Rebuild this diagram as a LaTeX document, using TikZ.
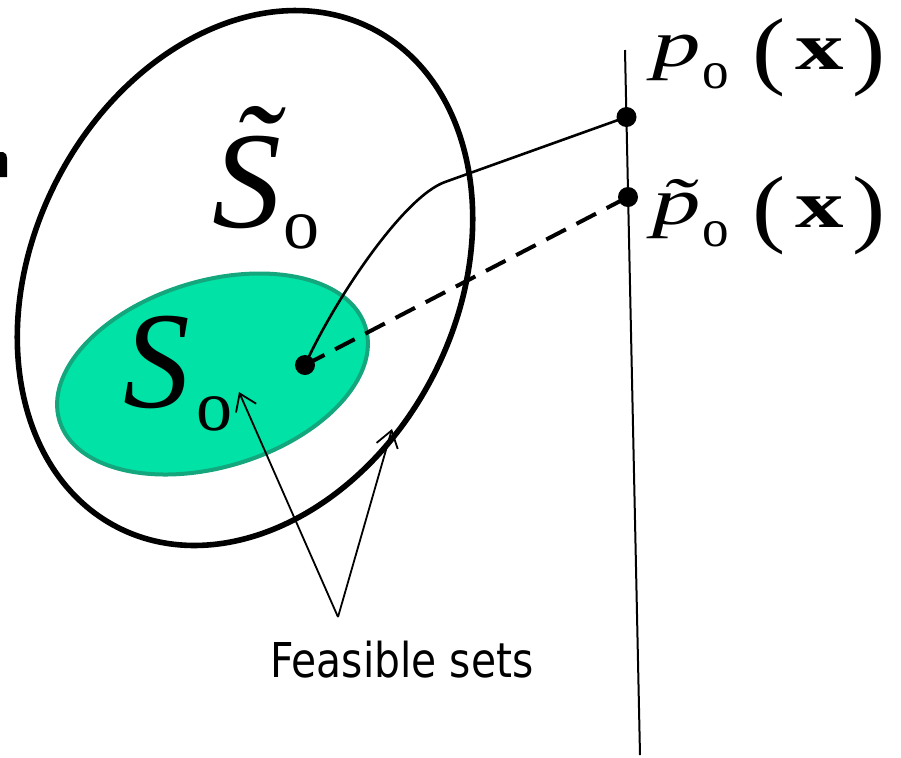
\documentclass[tikz,border=0pt]{standalone}
\usepackage{fontspec}
\newfontfamily\labelfont{DejaVu Sans}
\newfontfamily\timesfont{Liberation Serif}
\usetikzlibrary{arrows.meta}
\definecolor{setgreen}{RGB}{0,226,166}
\definecolor{setedge}{RGB}{20,166,124}
\newcommand{\osub}[2]{\raisebox{#1}{\fontsize{#2}{#2}\selectfont o}}
\newcommand{\bigparen}[1]{{\fontsize{44}{44}\selectfont\raisebox{-5.8pt}{\scalebox{1.15}[1]{#1}}}}

\begin{document}
\begin{tikzpicture}[x=0.5pt, y=-0.5pt,
  bigset/.style={line width=2.8pt},
  smallset/.style={fill=setgreen, draw=setedge, line width=2pt},
  dot/.style={circle, fill=black, inner sep=0pt, minimum size=10pt},
  dashline/.style={line width=2pt, dash pattern=on 11pt off 6pt},
  pointer/.style={line width=0.9pt, -{Straight Barb[length=8pt,width=11pt]}},
  lab/.style={anchor=base west, inner sep=0pt, font=\timesfont}]
\useasboundingbox (0,0) rectangle (901,757);
\fill (0,152) -- (3,152) .. controls (6,153) and (7,155) .. (7,158) -- (7,177) -- (0,177) -- cycle;

\draw[bigset, rotate around={-27:(245,278)}] (245,278) ellipse (212 and 280);
\draw[smallset, rotate around={17:(212.5,374)}] (212.5,374) ellipse (160 and 93);

\node[lab] (stilde) at (212,227) {\fontsize{46}{46}\selectfont\scalebox{1.5}[1.5]{\itshape\accent"02DC S}\hspace{1pt}\osub{-10.5pt}{36}};
\node[lab] (s) at (123,407) {\fontsize{46}{46}\selectfont\scalebox{1.45}[1.5]{\itshape S}\hspace{3pt}\osub{-11.5pt}{36}};

\coordinate (top) at (625,50);
\coordinate (bot) at (640,755);
\draw[line width=1pt] (top) -- (bot);

\node[dot] (c) at (305,365) {};
\node[dot] (p) at (626.5,117) {};
\node[dot] (pt) at (628,197) {};

\draw[line width=1.3pt] (c.center) .. controls (334,301) and (403,197) .. (445,182) -- (p.center);
\draw[dashline] (c.center) -- (pt.center);

\node[lab, anchor=south west] (plab) at (652,97) {\resizebox{116.5pt}{!}{\fontsize{34}{34}\selectfont\scalebox{1.45}[1]{\itshape p}\hspace{1pt}\osub{-11pt}{27}\hspace{12pt}\bigparen{(}\hspace{5pt}\raisebox{-1.3pt}{\scalebox{1.45}[1]{\bfseries x}}\hspace{4pt}\bigparen{)}}};
\node[lab, anchor=south west] (ptlab) at (652,255) {\resizebox{116.5pt}{!}{\fontsize{34}{34}\selectfont\scalebox{1.45}[1]{\itshape\accent"02DC p}\hspace{1pt}\osub{-11pt}{27}\hspace{12pt}\bigparen{(}\hspace{5pt}\raisebox{-1.3pt}{\scalebox{1.45}[1]{\bfseries x}}\hspace{4pt}\bigparen{)}}};

\coordinate (apex) at (338,617);
\coordinate (tipa) at (239,392);
\coordinate (tipb) at (392,429);
\draw[pointer] (apex) -- (tipa);
\draw[pointer] (apex) -- (tipb);

\node[inner sep=0pt] (feas) at (402,660) {\labelfont\fontsize{24}{28}\selectfont\scalebox{0.85}[1]{Feasible sets}};
\end{tikzpicture}
\end{document}
